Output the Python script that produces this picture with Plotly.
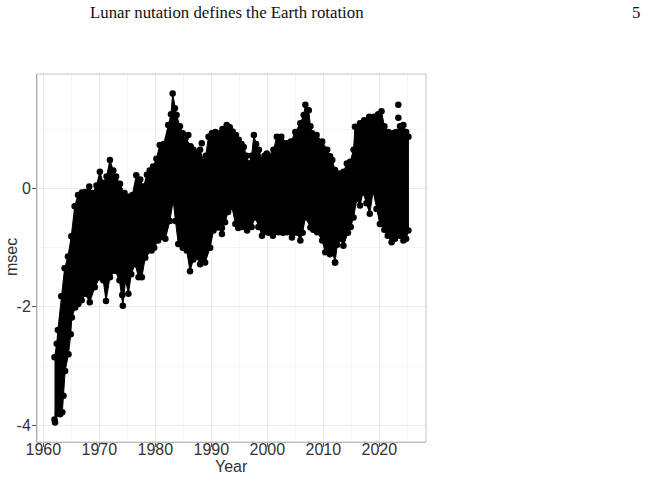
import plotly.graph_objects as go

# Upper envelope of the daily series (year, msec)
top_year = [1962.0, 1962.4, 1962.6, 1963.2, 1963.8, 1964.4, 1965.0, 1965.6, 1966.2, 1966.9, 1967.5,
            1968.2, 1968.8, 1969.5, 1970.1, 1970.7, 1971.3, 1971.9, 1972.5, 1973.0, 1973.7,
            1974.5, 1975.2, 1975.9, 1976.6, 1977.3, 1977.9, 1978.5, 1979.0, 1979.6, 1980.2,
            1980.8, 1981.5, 1982.3, 1982.8, 1983.1, 1983.5, 1983.8, 1984.4, 1984.9, 1985.4,
            1986.3, 1986.8, 1987.4, 1988.0, 1988.6, 1989.0, 1989.5, 1990.1, 1990.7, 1991.4,
            1992.0, 1992.75, 1993.3, 1993.8, 1994.4, 1994.9, 1995.4, 1995.8, 1996.3, 1996.7,
            1997.2, 1997.6, 1998.0, 1998.5, 1999.05, 1999.5, 1999.9, 2000.5, 2001.1, 2001.7,
            2002.5, 2003.5, 2004.2, 2005.0, 2005.9, 2006.5, 2006.8, 2007.4, 2007.7, 2008.0,
            2008.8, 2009.8, 2010.7, 2011.2, 2011.6, 2012.1, 2012.8, 2013.6, 2014.2, 2014.8,
            2015.4, 2015.65, 2016.55, 2017.3, 2018.2, 2019.0, 2019.8, 2020.4, 2020.9, 2021.6,
            2022.4, 2023.0, 2023.7, 2024.3, 2024.8, 2025.2]
top_msec = [-2.85, -2.62, -2.39, -1.82, -1.35, -1.15, -0.81, -0.30, -0.11, -0.07, -0.06,
            0.03, -0.08, 0.05, 0.28, 0.09, 0.20, 0.48, 0.30, 0.20, 0.08,
            -0.08, -0.14, -0.11, 0.22, 0.15, 0.03, 0.23, 0.30, 0.37, 0.50,
            0.73, 0.75, 1.07, 1.25, 1.60, 1.35, 1.24, 1.05, 0.93, 0.85,
            0.71, 0.65, 0.60, 0.65, 0.45, 0.55, 0.87, 0.93, 0.95, 0.93,
            1.00, 1.07, 1.03, 0.96, 0.90, 0.82, 0.75, 0.70, 0.55, 0.42,
            0.55, 0.90, 0.75, 0.65, 0.48, 0.55, 0.59, 0.55, 0.65, 0.87,
            0.87, 0.76, 0.79, 0.95, 1.10, 1.24, 1.41, 1.32, 1.05, 0.93,
            0.90, 0.79, 0.65, 0.54, 0.48, 0.31, 0.25, 0.28, 0.42, 0.45,
            0.65, 1.04, 1.10, 1.15, 1.21, 1.21, 1.25, 1.30, 1.05, 0.95,
            0.93, 0.95, 1.05, 1.07, 0.95, 0.87]

# Lower envelope (year, msec)
bot_year = [1962.0, 1962.1, 1962.6, 1963.0, 1963.4, 1963.6, 1963.9, 1964.5, 1964.9, 1965.1, 1965.7,
            1966.25, 1966.85, 1967.45, 1968.3, 1969.2, 1970.1, 1970.7, 1971.2, 1971.9, 1972.8,
            1973.6, 1974.2, 1974.7, 1975.2, 1975.7, 1976.4, 1977.0, 1977.6, 1978.2, 1979.35,
            1979.8, 1980.5, 1981.8, 1982.6, 1983.2, 1983.6, 1984.1, 1984.9, 1985.6, 1986.2,
            1986.8, 1987.3, 1988.0, 1988.9, 1989.8, 1990.4, 1991.25, 1991.9, 1992.45, 1993.0,
            1993.7, 1994.3, 1994.8, 1995.5, 1996.4, 1997.2, 1997.85, 1998.4, 1999.05, 2000.2,
            2001.0, 2002.0, 2002.8, 2003.5, 2004.4, 2005.3, 2005.9, 2006.3, 2006.8, 2007.7,
            2008.2, 2008.9, 2009.8, 2010.35, 2011.2, 2011.6, 2012.1, 2012.5, 2013.0, 2013.6,
            2014.4, 2014.9, 2015.4, 2016.0, 2016.55, 2017.1, 2017.7, 2018.3, 2018.9, 2019.5,
            2020.1, 2020.9, 2021.5, 2022.2, 2022.8, 2023.2, 2023.6, 2024.3, 2024.8, 2025.2]
bot_msec = [-3.90, -3.95, -3.80, -3.81, -3.78, -3.50, -3.08, -2.80, -2.46, -2.18, -2.01,
            -1.95, -1.89, -1.78, -1.92, -1.67, -1.50, -1.55, -1.90, -1.50, -1.39,
            -1.55, -1.98, -1.55, -1.78, -1.45, -1.28, -1.50, -1.50, -1.17, -1.05,
            -1.00, -0.88, -0.85, -0.55, -0.21, -0.55, -0.94, -1.00, -1.05, -1.40,
            -1.20, -1.15, -1.28, -1.25, -1.00, -0.71, -0.66, -0.67, -0.57, -0.40,
            -0.32, -0.60, -0.67, -0.65, -0.71, -0.65, -0.49, -0.65, -0.80, -0.75,
            -0.80, -0.74, -0.75, -0.74, -0.83, -0.75, -0.88, -0.75, -0.49, -0.66,
            -0.70, -0.74, -0.88, -1.08, -1.11, -1.05, -1.25, -0.95, -0.85, -0.97,
            -0.75, -0.65, -0.49, -0.18, -0.29, -0.07, -0.25, -0.43, -0.05, -0.35,
            -0.60, -0.70, -0.80, -0.91, -0.85, -0.75, -0.80, -0.88, -0.85, -0.71]

# Isolated points
out_year = [1985.9, 1988.3, 2023.4, 2023.4, 1974.1, 1991.9, 2012.1]
out_msec = [0.90, 0.76, 1.41, 1.19, -1.80, -0.77, -1.25]

x_ticks = [1960, 1970, 1980, 1990, 2000, 2010, 2020]
y_ticks = [0, -2, -4]
y_tick_labels = ["0", "-2", "-4"]

header_title = "Lunar nutation defines the Earth rotation"
page_number = "5"

fig = go.Figure()

# filled band between envelopes
poly_x = top_year + bot_year[::-1]
poly_y = top_msec + bot_msec[::-1]
fig.add_trace(go.Scatter(x=poly_x, y=poly_y, mode="lines", fill="toself",
                         fillcolor="black", line=dict(color="black", width=1),
                         hoverinfo="skip", showlegend=False))
# point markers along envelopes and outliers
fig.add_trace(go.Scatter(x=top_year + bot_year + out_year,
                         y=top_msec + bot_msec + out_msec,
                         mode="markers", marker=dict(color="black", size=6.5),
                         showlegend=False))

grid_major = "#ebebeb"
grid_minor = "#f4f4f4"
tick_font = dict(family="Liberation Sans, Arial, sans-serif", size=16, color="#333333")

L, R, T, B = 37, 426, 74, 442
W, H = 647, 479
pw, ph = R - L, B - T

fig.update_layout(
    width=W, height=H,
    margin=dict(l=L, r=W - R, t=T, b=H - B, autoexpand=False),
    paper_bgcolor="white", plot_bgcolor="white",
    showlegend=False,
    xaxis=dict(range=[1958.875, 2028.34], tickmode="array", tickvals=x_ticks,
               ticktext=[str(v) for v in x_ticks], automargin=False,
               showgrid=True, gridcolor=grid_major, gridwidth=1,
               minor=dict(dtick=5, tick0=1955, showgrid=True, gridcolor=grid_minor, gridwidth=0.7),
               zeroline=False, showline=True, linecolor="#b5b5b5", linewidth=1,
               ticks="outside", ticklen=4, tickcolor="#555555", tickwidth=1,
               ticklabelstandoff=-11,
               tickfont=tick_font),
    yaxis=dict(range=[-4.28, 1.93], tickmode="array", tickvals=y_ticks,
               ticktext=y_tick_labels, automargin=False,
               showgrid=True, gridcolor=grid_major, gridwidth=1,
               minor=dict(dtick=1, tick0=-5, showgrid=True, gridcolor=grid_minor, gridwidth=0.7),
               zeroline=False, showline=True, linecolor="#8a8a8a", linewidth=1,
               ticks="outside", ticklen=4, tickcolor="#555555", tickwidth=1,
               ticklabelstandoff=-2,
               tickfont=tick_font),
    shapes=[dict(type="rect", xref="paper", yref="paper", x0=0, x1=1, y0=0, y1=1,
                 line=dict(color="#c4c4c4", width=1), fillcolor="rgba(0,0,0,0)", layer="above")],
    annotations=[
        dict(text="Year", xref="paper", yref="paper", x=(232 - L) / pw, y=-(467 - B) / ph,
             xanchor="center", yanchor="middle", showarrow=False, font=tick_font),
        dict(text="msec", xref="paper", yref="paper", x=-(L - 11) / pw, y=(B - 257) / ph,
             xanchor="center", yanchor="middle", showarrow=False, textangle=-90, font=tick_font),
        dict(text=header_title, xref="paper", yref="paper", x=(88 - L) / pw, y=1 + (T - 12) / ph,
             xanchor="left", yanchor="middle", showarrow=False,
             font=dict(family="Liberation Serif, Times New Roman, serif", size=16.8, color="#111111")),
        dict(text=page_number, xref="paper", yref="paper", x=(642 - L) / pw, y=1 + (T - 12) / ph,
             xanchor="right", yanchor="middle", showarrow=False,
             font=dict(family="Liberation Serif, Times New Roman, serif", size=16.8, color="#111111")),
    ],
)

fig.write_html("out.html")
